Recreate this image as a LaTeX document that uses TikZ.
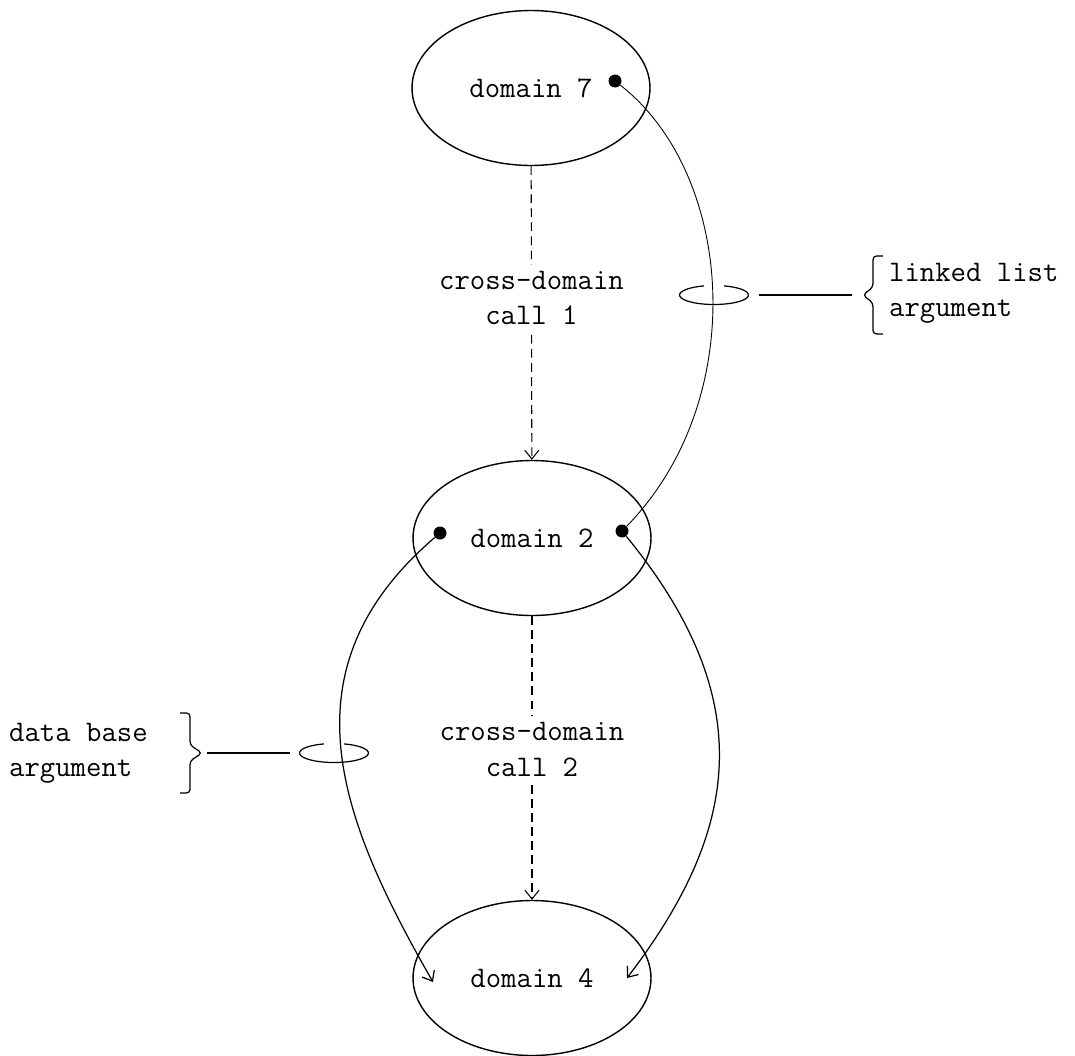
\documentclass[tikz,border=0pt]{standalone}
\usepackage{fontspec}
\usepackage{tikz}
\usetikzlibrary{shapes.geometric}
\usetikzlibrary{arrows.meta}

\begin{document}
\begin{tikzpicture}[x=0.02cm, y=-0.02cm,
    every node/.style={font=\fontsize{17}{20}\selectfont\ttfamily},
    dominio/.style={draw, ellipse, line width=0.8pt, minimum width=4.76cm, minimum height=3.1cm, inner sep=0pt},
    punto/.style={circle, fill=black, inner sep=0pt, minimum size=0.26cm},
    anillo/.style={ellipse, minimum width=1.38cm, minimum height=0.38cm, inner sep=0pt, outer sep=0.2cm},
    etiqueta/.style={fill=white, align=center, inner sep=4pt},
    llamada/.style={->, line width=0.6pt, dash pattern=on 5pt off 3pt},
    arista/.style={line width=0.7pt},
    >={Straight Barb[length=5pt, width=8pt]}]
              \useasboundingbox (0,0) rectangle (1075,1055);

              % Dominios
              \node[dominio] (d7) at (531,88) {domain 7};
              \node[dominio] (d2) at (532,538) {domain 2};
              \node[dominio] (d4) at (532,978) {domain 4};

              % Puntos
              \node[punto] (p7) at (615,81) {};
              \node[punto] (p2l) at (440,533) {};
              \node[punto] (p2r) at (622,531) {};
              \coordinate (f4l) at (433,982);
              \coordinate (f4r) at (627,978);

              % Llamadas
              \draw[llamada] (d7) -- node[etiqueta, pos=0.45] {cross-domain\\call 1} (d2);
              \draw[llamada] (d2) -- node[etiqueta, pos=0.47] {cross-domain\\call 2} (d4);

              % Argumentos
              \draw[arista, line width=0.5pt] (p7) .. controls (735,175) and (750,400) .. (p2r);
              \draw[arista, ->] (p2r) .. controls (760,700) and (740,830) .. (f4r);
              \draw[arista, ->] (p2l) .. controls (280,670) and (340,820) .. (f4l);

              % Anillos
              \node[anillo] (anl) at (714,295) {};
              \node[anillo] (anb) at (334,753) {};
              \draw[arista] ([shift={(107:0.69cm and 0.19cm)}]anl.center) arc[start angle=107, end angle=433, x radius=0.69cm, y radius=0.19cm];
              \draw[arista] ([shift={(107:0.69cm and 0.19cm)}]anb.center) arc[start angle=107, end angle=433, x radius=0.69cm, y radius=0.19cm];

              % Llaves y textos
              \coordinate (bl) at (852,295);
              \coordinate (bb) at (207,753);
              \draw[arista] (anl) -- (bl);
              \draw[arista] (bb) -- (anb);
              \draw[arista, rounded corners=2pt] (883,256) -- (873,256) -- (873,287) -- (863,295) -- (873,303) -- (873,334) -- (883,334);
              \draw[arista, rounded corners=2pt] (180,713) -- (190,713) -- (190,745) -- (202,753) -- (190,761) -- (190,793) -- (180,793);
              \node[anchor=west, align=left] (tl) at (883,293) {linked list\\argument};
              \node[anchor=west, align=left] (tb) at (3,753) {data base\\argument};
            \end{tikzpicture}
\end{document}
